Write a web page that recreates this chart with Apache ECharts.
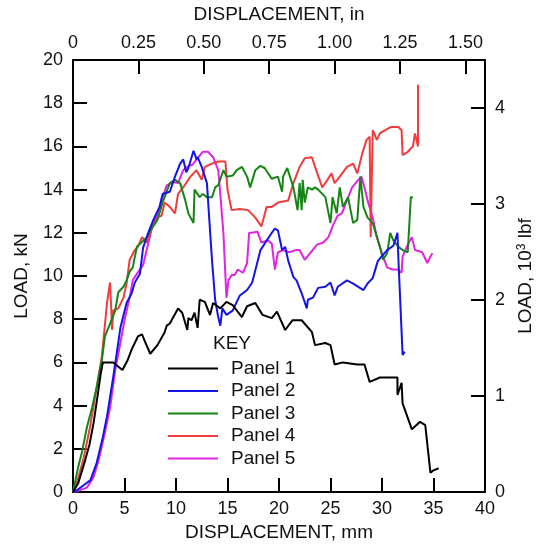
<!DOCTYPE html>
<html><head><meta charset="utf-8">
<script src="https://cdn.jsdelivr.net/npm/echarts@6/dist/echarts.min.js"></script>
<style>html,body{margin:0;padding:0;background:#fff}#c{width:537px;height:550px}</style>
</head><body><div id="c"></div>
<script>
// Displacement (mm), Load (kN)
var panel1 = [[0,0],[0.5,0.4],[1.2,1.5],[1.6,2.2],[2.0,3.2],[2.4,4.5],[2.7,5.5],[2.9,6.0],[3.9,6.0],[4.8,5.65],[5.3,6.1],[5.7,6.6],[6.3,7.2],[6.7,7.3],[7.0,6.95],[7.5,6.4],[8.2,6.8],[8.9,7.4],[9.1,7.7],[9.4,7.8],[10.2,8.5],[10.6,8.3],[11.1,7.5],[11.2,8.05],[11.5,7.95],[11.8,8.3],[12.1,7.6],[12.3,8.9],[12.8,8.8],[13.3,8.2],[13.6,8.75],[14.3,8.5],[14.9,8.8],[15.5,8.65],[16.4,8.1],[16.9,8.6],[17.7,8.75],[18.4,8.2],[19.3,8.05],[19.8,8.35],[20.6,7.5],[21.3,7.95],[22.2,7.95],[23.2,7.4],[23.5,6.8],[24.5,6.9],[25.0,6.8],[25.4,5.9],[26.2,6.0],[27.6,5.9],[28.3,5.9],[28.8,5.1],[29.8,5.3],[30.6,5.3],[31.5,5.3],[31.5,4.5],[31.9,5.05],[32.0,4.1],[32.9,2.9],[33.7,3.25],[34.2,3.1],[34.7,0.9],[35.0,1.0],[35.5,1.1]];
var panel2 = [[0,0],[0.3,0.05],[1.0,0.3],[1.7,0.55],[2.3,1.35],[2.6,1.95],[2.9,2.55],[3.3,3.5],[3.6,4.4],[3.9,5.3],[4.3,6.6],[4.6,7.6],[5.2,8.75],[5.7,9.2],[6.0,9.7],[6.5,10.1],[6.8,11.3],[7.3,12.0],[7.8,12.6],[8.4,13.2],[8.7,13.8],[9.4,13.9],[9.9,14.6],[10.4,15.2],[10.7,15.4],[11.0,14.8],[11.2,15.0],[11.7,15.8],[12.0,15.4],[12.1,15.5],[12.5,15.05],[13.0,14.3],[13.5,10.7],[13.8,8.9],[14.1,8.1],[14.3,7.7],[14.5,8.5],[14.9,8.2],[15.5,8.4],[16.2,9.1],[16.9,9.35],[17.4,9.7],[18.2,11.2],[19.3,12.0],[19.6,12.2],[19.9,12.1],[20.3,11.2],[20.6,11.35],[20.9,10.7],[21.4,9.95],[21.7,9.8],[22.2,9.2],[22.7,8.5],[22.8,8.9],[23.3,9.0],[23.8,9.45],[24.5,9.5],[25.0,9.7],[25.4,9.1],[25.7,9.5],[26.6,9.8],[27.2,9.65],[27.7,9.5],[28.2,9.35],[28.6,9.65],[29.1,9.9],[29.6,10.7],[30.5,11.2],[31.1,11.4],[31.5,12.0],[31.6,10.7],[32.0,6.35],[32.2,6.5]];
var panel3 = [[0,0],[0.5,1.15],[0.85,1.8],[1.35,3.0],[1.85,3.9],[2.3,4.85],[2.8,6.1],[3.1,7.2],[3.6,7.8],[4.1,8.4],[4.4,9.25],[4.9,9.5],[5.2,9.8],[5.5,10.2],[5.8,10.4],[6.2,11.35],[7.2,11.8],[7.5,12.1],[8.2,12.6],[8.7,13.4],[9.4,14.3],[9.9,14.45],[10.4,14.3],[10.9,13.5],[11.2,12.9],[11.7,12.45],[11.8,14.0],[12.3,13.65],[12.6,13.8],[13.0,13.65],[13.5,13.65],[13.8,14.1],[14.1,14.2],[14.5,14.75],[14.6,14.9],[14.9,14.6],[15.5,14.65],[15.9,14.9],[16.4,15.05],[16.9,14.6],[17.2,14.1],[17.7,14.9],[18.2,15.1],[18.6,15.0],[19.3,14.5],[19.9,14.6],[20.3,13.9],[20.4,14.6],[20.8,15.0],[21.4,14.1],[21.8,13.05],[22.0,14.3],[22.2,13.05],[22.3,14.45],[22.5,13.4],[22.8,14.1],[23.2,14.0],[23.5,14.1],[23.8,14.0],[24.5,13.65],[25.0,12.45],[25.2,13.65],[25.6,12.9],[25.9,14.1],[26.2,13.2],[26.7,13.65],[27.2,12.45],[27.6,12.6],[27.9,14.6],[28.2,13.2],[28.6,12.7],[29.1,12.45],[29.8,11.35],[30.1,10.75],[30.5,11.05],[30.8,12.0],[31.1,11.65],[31.6,11.35],[32.0,11.2],[32.5,11.1],[32.8,13.65],[33.0,13.65]];
var panel4 = [[0,0],[0.3,0.3],[1.0,1.5],[1.65,3.0],[2.3,4.85],[2.8,6.25],[3.3,8.75],[3.6,9.7],[3.8,7.5],[3.9,8.4],[4.4,8.5],[4.9,9.0],[5.2,9.65],[5.5,10.75],[6.0,11.2],[6.3,11.35],[6.7,11.8],[7.2,11.55],[7.7,12.3],[8.2,12.7],[8.6,12.8],[8.9,13.4],[9.4,13.2],[9.9,12.9],[10.2,13.8],[10.7,14.1],[11.4,14.6],[12.0,14.9],[12.5,14.45],[12.8,15.05],[13.5,15.2],[14.1,15.3],[14.8,15.3],[15.0,14.0],[15.4,13.05],[16.2,13.1],[17.0,13.05],[17.7,12.7],[18.3,12.3],[18.8,13.2],[19.3,13.2],[19.9,13.4],[20.9,13.5],[21.4,14.3],[22.0,15.05],[22.5,15.45],[23.2,15.5],[23.5,15.05],[24.2,14.1],[24.7,14.45],[25.1,14.75],[25.4,14.3],[25.9,14.6],[26.6,15.05],[27.2,15.2],[27.6,14.75],[28.1,15.7],[28.5,16.3],[28.8,16.45],[28.9,11.8],[29.1,16.75],[29.5,16.3],[29.8,16.6],[30.3,16.75],[30.9,16.9],[31.6,16.9],[31.9,16.75],[32.0,15.6],[32.5,15.75],[33.0,16.0],[33.2,16.6],[33.5,16.0],[33.5,18.85]];
var panel5 = [[0,0],[0.5,0.05],[1.35,0.2],[2.0,0.7],[2.5,1.5],[2.8,2.1],[3.3,3.2],[3.6,3.9],[4.1,5.65],[4.6,6.9],[5.0,7.95],[5.5,9.0],[5.8,9.8],[6.2,10.1],[6.8,10.5],[7.1,11.1],[7.5,11.9],[7.8,12.5],[8.3,12.9],[8.6,13.5],[9.1,14.2],[9.7,14.35],[10.2,14.3],[10.7,14.9],[11.1,15.05],[11.6,15.15],[12.0,15.4],[12.6,15.75],[13.1,15.75],[13.6,15.5],[14.1,14.9],[14.3,13.8],[14.6,12.0],[14.9,9.0],[15.1,9.8],[15.4,10.05],[15.7,10.05],[16.0,10.3],[16.5,10.15],[16.9,10.6],[17.1,12.0],[17.4,12.0],[17.9,12.05],[18.3,11.55],[18.9,11.65],[19.3,11.5],[19.6,10.3],[19.9,11.1],[20.4,11.2],[21.0,11.1],[21.6,11.2],[22.0,11.2],[22.5,10.75],[23.0,11.05],[23.7,11.45],[24.3,11.55],[24.8,11.8],[25.2,12.3],[25.7,12.8],[26.1,12.9],[26.6,13.5],[27.1,14.1],[27.7,14.45],[28.0,14.6],[28.3,14.1],[28.6,13.5],[29.1,12.7],[29.5,11.8],[30.0,11.05],[30.5,10.4],[31.0,10.3],[31.5,10.3],[31.9,10.15],[32.0,10.9],[32.4,11.35],[32.9,11.8],[33.2,11.2],[33.9,11.1],[34.4,10.6],[34.7,10.9],[34.9,11.05]];
var seriesNames = ['Panel 1','Panel 2','Panel 3','Panel 4','Panel 5'];
var seriesColors = ['#000000','#1414e6','#168516','#f03c3c','#e024e0'];
var MM_PER_IN = 25.4;
var KIP_PER_KN = 0.2248089;
var X_MAX_MM = 40, Y_MAX_KN = 20;

var FONT = '"Liberation Sans", Arial, sans-serif';
var chart = echarts.init(document.getElementById('c'), null, {renderer:'canvas'});
var axisCommon = function(){
  return {
    axisLine:{show:true,onZero:false,lineStyle:{color:'#000',width:2}},
    axisTick:{show:true,inside:true,length:14,lineStyle:{color:'#000',width:2}},
    splitLine:{show:false},
    axisLabel:{color:'#111',fontSize:18,fontFamily:FONT},
    nameTextStyle:{color:'#111',fontSize:19,fontFamily:FONT}
  };
};
var xb = axisCommon(); Object.assign(xb,{type:'value',position:'bottom',min:0,max:X_MAX_MM,interval:5,name:'DISPLACEMENT, mm',nameLocation:'middle',nameGap:30});
xb.axisLabel.margin = 8;
var xt = axisCommon(); Object.assign(xt,{type:'value',position:'top',min:0,max:X_MAX_MM/MM_PER_IN,interval:0.25,name:'DISPLACEMENT, in',nameLocation:'middle',nameGap:36});
xt.axisLabel.margin = 8; xt.axisLabel.showMaxLabel=false;
xt.axisLabel.formatter = function(v){return v===0?'0':v.toFixed(2);};
var yl = axisCommon(); Object.assign(yl,{type:'value',position:'left',min:0,max:Y_MAX_KN,interval:2,name:'LOAD, kN',nameLocation:'middle',nameGap:42});
yl.axisLabel.margin = 10;
var yr = axisCommon(); Object.assign(yr,{type:'value',position:'right',min:0,max:Y_MAX_KN*KIP_PER_KN,interval:1,name:'LOAD, 10{sup|3} lbf',nameLocation:'middle',nameGap:31,nameRotate:90});
yr.axisLabel.margin = 10; yr.axisLabel.showMaxLabel=false;
yr.nameTextStyle.rich = {sup:{fontSize:12,verticalAlign:'top',fontFamily:FONT,color:'#111',padding:[0,0,6,0]}};

var dataSets = [panel1,panel2,panel3,panel4,panel5];
var series = dataSets.map(function(d,i){
  return {type:'line',name:seriesNames[i],data:d,xAxisIndex:0,yAxisIndex:0,showSymbol:false,symbol:'none',
    lineStyle:{color:seriesColors[i],width:2},itemStyle:{color:seriesColors[i]},animation:false,z:5-i};
});

chart.setOption({
  backgroundColor:'#fff',
  animation:false,
  grid:{left:73,right:52,top:60,bottom:58,containLabel:false,outerBoundsMode:'none'},
  xAxis:[xb,xt],
  yAxis:[yl,yr],
  legend:{show:true,orient:'vertical',left:163,top:354,icon:'rect',itemWidth:50,itemHeight:2,itemGap:3.5,
    data:seriesNames,textStyle:{fontSize:19,fontFamily:FONT,color:'#111',lineHeight:19,padding:[0,0,0,8]},selectedMode:false},
  graphic:[{type:'text',left:213,top:334,style:{text:'KEY',font:'19px "Liberation Sans", Arial, sans-serif',fill:'#111'}}],
  series:series
});
</script></body></html>
